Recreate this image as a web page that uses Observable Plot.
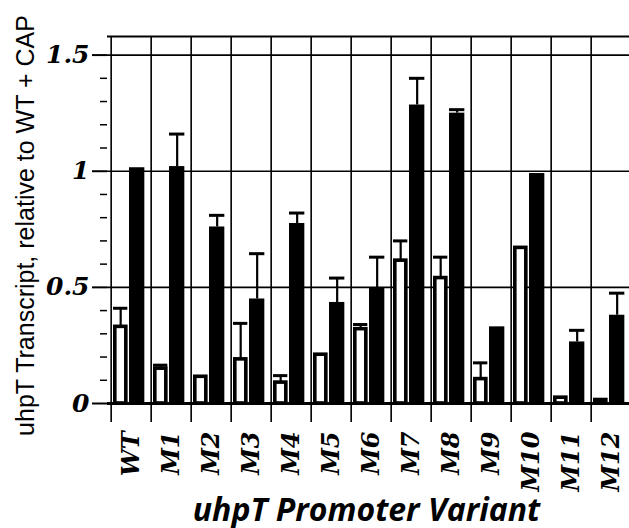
<!DOCTYPE html>
<html>
<head>
<meta charset="utf-8">
<script src="https://cdn.jsdelivr.net/npm/d3@7"></script>
<script src="https://cdn.jsdelivr.net/npm/@observablehq/plot@0.6"></script>
<style>
  html, body { margin: 0; padding: 0; background: #fff; overflow: hidden; }
</style>
</head>
<body>
<div id="chart"></div>
<script>
// ---- data ----
const categories = ["WT","M1","M2","M3","M4","M5","M6","M7","M8","M9","M10","M11","M12"];
const noCap      = [0.33, 0.15, 0.115, 0.19, 0.09, 0.21, 0.32, 0.615, 0.54, 0.105, 0.67, 0.025, 0.015];
const noCapErr   = [0.41, 0.165, null, 0.345, 0.12, null, 0.34, 0.70, 0.63, 0.175, null, null, null];
const withCap    = [1.015, 1.02, 0.76, 0.45, 0.775, 0.435, 0.495, 1.285, 1.25, 0.33, 0.99, 0.265, 0.38];
const withCapErr = [null, 1.16, 0.81, 0.645, 0.82, 0.54, 0.63, 1.40, 1.265, null, null, 0.315, 0.475];
const majorTicks = [0, 0.5, 1, 1.5];
const minorTicks = [0.1,0.2,0.3,0.4,0.6,0.7,0.8,0.9,1.1,1.2,1.3,1.4];
const yMax = 1.58;
const yTitle = "uhpT Transcript, relative to WT + CAP";
const xTitle = "uhpT Promoter Variant";

const rows = categories.map((c, i) => ({
  c, noCap: noCap[i], noCapErr: noCapErr[i], withCap: withCap[i], withCapErr: withCapErr[i]
}));

// ---- layout ----
const W = 629, H = 528;
const xRange = [107, 635.7];
const step = (xRange[1] - xRange[0]) / categories.length;
const serifBI = {fontFamily: "DejaVu Serif", fontWeight: "bold", fontStyle: "italic"};

const chart = Plot.plot({
  width: W,
  height: H,
  marginLeft: 107,
  marginRight: 0,
  marginTop: 36,
  marginBottom: H - 422,
  style: {background: "white", overflow: "hidden"},
  x: {type: "band", domain: categories, range: xRange, padding: 0, axis: null},
  y: {domain: [0, yMax], range: [403, 36], axis: null},
  marks: [
    // horizontal grid lines + top frame line
    Plot.ruleY([0.5, 1, 1.5], {stroke: "black", strokeWidth: 1.6}),
    Plot.ruleY([yMax], {stroke: "black", strokeWidth: 2.2}),
    // vertical separators between promoter variants (extend below zero)
    Plot.ruleX(categories, {x: d => d, dx: -step / 2, stroke: "black", strokeWidth: 1.6}),
    // y ticks
    Plot.axisY({ticks: majorTicks, tickSize: 15, text: null, stroke: "black", strokeWidth: 2}),
    Plot.axisY({ticks: minorTicks, tickSize: 7, text: null, stroke: "black", strokeWidth: 1.5}),
    // y tick labels
    Plot.text(majorTicks, {y: d => d, text: d => String(d), frameAnchor: "left", dx: -18,
      textAnchor: "end", lineAnchor: "middle", fontSize: 25, fill: "black", ...serifBI}),
    // bars: without CAP (white, outlined) and with CAP (black)
    Plot.barY(rows, {x: "c", y: "noCap", fill: "white", stroke: "black", strokeWidth: 3.6,
      insetLeft: 3.8, insetRight: step - 15.5}),
    Plot.barY(rows, {x: "c", y: "withCap", fill: "black",
      insetLeft: 18, insetRight: step - 34}),
    // error bars (upper half only)
    Plot.ruleX(rows, {x: "c", y1: "noCap", y2: "noCapErr", dx: 9.5 - step / 2, stroke: "black", strokeWidth: 2.2}),
    Plot.tickY(rows, {x: "c", y: "noCapErr", insetLeft: 2, insetRight: step - 17, stroke: "black", strokeWidth: 3}),
    Plot.ruleX(rows, {x: "c", y1: "withCap", y2: "withCapErr", dx: 26 - step / 2, stroke: "black", strokeWidth: 2.2}),
    Plot.tickY(rows, {x: "c", y: "withCapErr", insetLeft: 18, insetRight: step - 34, stroke: "black", strokeWidth: 3}),
    // baseline
    Plot.ruleY([0], {stroke: "black", strokeWidth: 3}),
    // x tick labels (rotated)
    Plot.text(categories, {x: d => d, text: d => d, frameAnchor: "bottom", dy: 9, rotate: -90,
      textAnchor: "end", lineAnchor: "middle", fontSize: 24, fill: "black", ...serifBI}),
    // axis titles
    Plot.text([yTitle], {text: d => d, frameAnchor: "left", dx: -74, dy: -4, rotate: -90,
      textAnchor: "middle", lineAnchor: "bottom", fontSize: 25, fill: "black",
      fontFamily: "Liberation Sans, Arial, sans-serif"}),
    Plot.text([xTitle], {text: d => d, frameAnchor: "bottom", dy: 98, dx: -2,
      textAnchor: "middle", lineAnchor: "bottom", fontSize: 32, fill: "black",
      fontFamily: "Open Sans", fontWeight: "bold", fontStyle: "italic"})
  ]
});
document.getElementById("chart").appendChild(chart);
</script>
</body>
</html>
